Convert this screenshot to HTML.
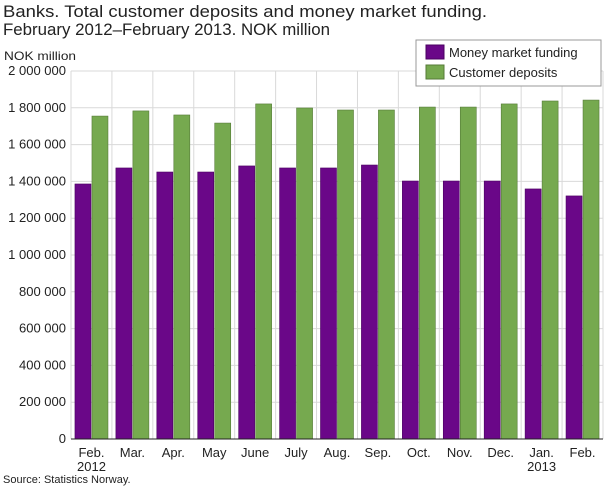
<!DOCTYPE html>
<html><head><meta charset="utf-8"><style>
body{margin:0;background:#fff;font-family:"Liberation Sans",sans-serif;}
</style></head><body>
<svg width="610" height="488" xmlns="http://www.w3.org/2000/svg" font-family="Liberation Sans, sans-serif">
<text x="3" y="17" font-size="17" fill="#222" textLength="484" lengthAdjust="spacingAndGlyphs">Banks. Total customer deposits and money market funding.</text>
<text x="3" y="35" font-size="17" fill="#222" textLength="327" lengthAdjust="spacingAndGlyphs">February 2012–February 2013. NOK million</text>
<text x="4" y="60" font-size="12" fill="#222" textLength="72" lengthAdjust="spacingAndGlyphs">NOK million</text>
<g id="grid"></g><g id="bars"></g><g id="axes"></g>
<g>
<rect x="416" y="40" width="185" height="46" fill="#fff" stroke="#999"/>
<rect x="426" y="45" width="18" height="14" fill="#6a0788" stroke="#4a0060"/>
<text x="449" y="57" font-size="13" fill="#222">Money market funding</text>
<rect x="426" y="65" width="18" height="14" fill="#76a94f" stroke="#557a37"/>
<text x="449" y="77" font-size="13" fill="#222">Customer deposits</text>
</g>
<text x="3" y="483" font-size="11" fill="#222">Source: Statistics Norway.</text>
</svg>
<script>
const categories=["Feb.","Mar.","Apr.","May","June","July","Aug.","Sep.","Oct.","Nov.","Dec.","Jan.","Feb."];
const subLabels=["2012","","","","","","","","","","","2013",""];
const moneyMarket=[1386,1473,1451,1451,1484,1473,1473,1489,1402,1402,1402,1359,1321];
const deposits=[1755,1783,1761,1717,1821,1799,1788,1788,1804,1804,1821,1837,1842];
const yTicks=[0,200,400,600,800,1000,1200,1400,1600,1800,2000];
const yTickLabels=["0","200 000","400 000","600 000","800 000","1 000 000","1 200 000","1 400 000","1 600 000","1 800 000","2 000 000"];
const NS="http://www.w3.org/2000/svg";
const L=71,R=603,T=71,B=439,yMax=2000;
const bw=(R-L)/categories.length;
const y=v=>B-v/yMax*(B-T);
const x=i=>L+i*bw;
function mk(p,tag,at){const e=document.createElementNS(NS,tag);for(const k in at)e.setAttribute(k,at[k]);p.appendChild(e);return e;}
const grid=document.getElementById('grid'),bars=document.getElementById('bars'),axes=document.getElementById('axes');
yTicks.forEach((t,i)=>{
 const ln=mk(grid,'line',{x1:L,x2:R,y1:y(t),y2:y(t),stroke:'#d9d9d9'});
 
 
 const tx=mk(axes,'text',{x:L-5,y:y(t)+4,'text-anchor':'end','font-size':13,fill:'#222'});
 tx.textContent=yTickLabels[i];
 
 
});
for(let i=0;i<=categories.length;i++){
 const ln=mk(grid,'line',{x1:x(i),x2:x(i),y1:T,y2:B,stroke:'#d9d9d9'});
 
 
}
categories.forEach((c,i)=>{
 const cx=x(i)+bw/2;
 const r1=mk(bars,'rect',{x:cx-16.5,y:y(moneyMarket[i]),width:16,height:B-y(moneyMarket[i]),fill:'#6a0788',stroke:'#4a0060','stroke-width':0.6});
 
 
 const r2=mk(bars,'rect',{x:cx+0.5,y:y(deposits[i]),width:16,height:B-y(deposits[i]),fill:'#76a94f',stroke:'#557a37','stroke-width':0.6});
 
 
 const t=mk(axes,'text',{x:cx,y:B+18,'text-anchor':'middle','font-size':13,fill:'#222'});
 t.textContent=c;
 
 
 if(subLabels[i]){const s=mk(axes,'text',{x:cx,y:B+32,'text-anchor':'middle','font-size':13,fill:'#222'});
 s.textContent=subLabels[i];
 
 }
});
const ax=mk(axes,'line',{x1:L,x2:R,y1:B,y2:B,stroke:'#222'});


</script>
</body></html>
